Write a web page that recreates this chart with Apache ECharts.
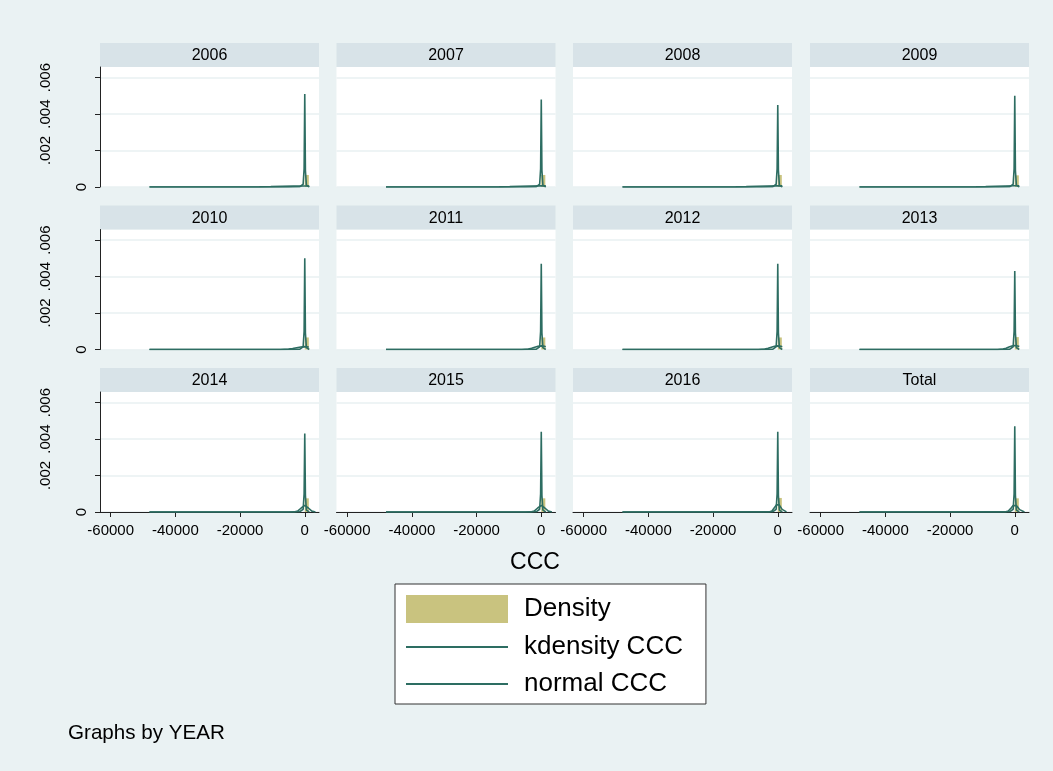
<!DOCTYPE html>
<html>
<head>
<meta charset="utf-8">
<script src="https://cdn.jsdelivr.net/npm/echarts@6/dist/echarts.min.js"></script>
<style>
  html, body { margin: 0; padding: 0; background: #ffffff; }
  #chart { width: 1053px; height: 771px; }
</style>
</head>
<body>
<div id="chart"></div>
<script>
// Panel labels (one panel per year plus the pooled total)
const years = ['2006', '2007', '2008', '2009', '2010', '2011', '2012', '2013', '2014', '2015', '2016', 'Total'];

// Axis ticks
const xTicks = [-60000, -40000, -20000, 0];
const yTicks = [0, 0.002, 0.004, 0.006];

// Histogram bin holding nearly all observations, per panel
const histLo = [0, 0, 0, 0, 0, 0, 0, 0, 0, 0, 0, 0];
const histHi = [1250, 1250, 1250, 1250, 1250, 1250, 1250, 1250, 1250, 1250, 1250, 1250];
const histDensity = [0.00066, 0.00066, 0.00066, 0.00064, 0.00066, 0.00066, 0.00066, 0.00068, 0.00075, 0.00075, 0.00077, 0.00075];

// Kernel density of CCC: evaluation points and estimates per panel
const kdX = [-48000, -20000, -5000, -1500, -500, -200, 0, 200, 500, 1400];
const kdY = [
  [0, 0, 0.000002, 0.00002, 0.00015, 0.0010, 0.0051, 0.0009, 0.0001, 0],
  [0, 0, 0.000002, 0.00002, 0.00015, 0.0010, 0.0048, 0.0009, 0.0001, 0],
  [0, 0, 0.000002, 0.00002, 0.00015, 0.0010, 0.0045, 0.0009, 0.0001, 0],
  [0, 0, 0.000002, 0.00002, 0.00015, 0.0010, 0.0050, 0.0009, 0.0001, 0],
  [0, 0, 0.000002, 0.00002, 0.00015, 0.0010, 0.0050, 0.0009, 0.0001, 0],
  [0, 0, 0.000002, 0.00002, 0.00015, 0.0010, 0.0047, 0.0009, 0.0001, 0],
  [0, 0, 0.000002, 0.00002, 0.00015, 0.0010, 0.0047, 0.0009, 0.0001, 0],
  [0, 0, 0.000002, 0.00002, 0.00015, 0.0010, 0.0043, 0.0009, 0.0001, 0],
  [0, 0, 0.000002, 0.00002, 0.00015, 0.0010, 0.0043, 0.0009, 0.0001, 0],
  [0, 0, 0.000002, 0.00002, 0.00015, 0.0010, 0.0044, 0.0009, 0.0001, 0],
  [0, 0, 0.000002, 0.00002, 0.00015, 0.0010, 0.0044, 0.0009, 0.0001, 0],
  [0, 0, 0.000002, 0.00002, 0.00015, 0.0010, 0.0047, 0.0009, 0.0001, 0]
];

// Normal density overlay over each panel's data range: points and heights
const normX = [
  [-48000, -21000, -14000, -10500, -7000, -3500, 0, 1400],
  [-48000, -19500, -13000, -9750, -6500, -3250, 0, 1400],
  [-48000, -19500, -13000, -9750, -6500, -3250, 0, 1400],
  [-48000, -18000, -12000, -9000, -6000, -3000, 0, 1400],
  [-48000, -7500, -5000, -3750, -2500, -1250, 0, 1250, 1400],
  [-48000, -6000, -4000, -3000, -2000, -1000, 0, 1000, 1400],
  [-48000, -6000, -4000, -3000, -2000, -1000, 0, 1000, 1400],
  [-48000, -5400, -3600, -2700, -1800, -900, 0, 900, 1400],
  [-48000, -3300, -2200, -1650, -1100, -550, 0, 550, 1100, 1650, 2200, 3300],
  [-48000, -3300, -2200, -1650, -1100, -550, 0, 550, 1100, 1650, 2200, 3300],
  [-48000, -2700, -1800, -1350, -900, -450, 0, 450, 900, 1350, 1800, 2700],
  [-48000, -3000, -2000, -1500, -1000, -500, 0, 500, 1000, 1500, 2000, 3000]
];
const normY = [
  [0, 6.3e-7, 7.7e-6, 1.85e-5, 3.46e-5, 5.03e-5, 5.70e-5, 5.59e-5],
  [0, 6.8e-7, 8.3e-6, 1.99e-5, 3.72e-5, 5.42e-5, 6.14e-5, 6.0e-5],
  [0, 6.8e-7, 8.3e-6, 1.99e-5, 3.72e-5, 5.42e-5, 6.14e-5, 6.0e-5],
  [0, 7.4e-7, 9.0e-6, 2.16e-5, 4.03e-5, 5.87e-5, 6.65e-5, 6.47e-5],
  [0, 1.8e-6, 2.16e-5, 5.18e-5, 9.68e-5, 1.408e-4, 1.596e-4, 1.408e-4, 1.364e-4],
  [0, 2.2e-6, 2.70e-5, 6.48e-5, 1.210e-4, 1.760e-4, 1.995e-4, 1.760e-4, 1.56e-4],
  [0, 2.2e-6, 2.70e-5, 6.48e-5, 1.210e-4, 1.760e-4, 1.995e-4, 1.760e-4, 1.56e-4],
  [0, 2.5e-6, 3.0e-5, 7.2e-5, 1.344e-4, 1.956e-4, 2.216e-4, 1.956e-4, 1.64e-4],
  [0, 4.0e-6, 4.91e-5, 1.177e-4, 2.200e-4, 3.201e-4, 3.627e-4, 3.201e-4, 2.200e-4, 1.177e-4, 4.91e-5, 4.0e-6],
  [0, 4.0e-6, 4.91e-5, 1.177e-4, 2.200e-4, 3.201e-4, 3.627e-4, 3.201e-4, 2.200e-4, 1.177e-4, 4.91e-5, 4.0e-6],
  [0, 4.9e-6, 6.0e-5, 1.439e-4, 2.689e-4, 3.912e-4, 4.433e-4, 3.912e-4, 2.689e-4, 1.439e-4, 6.0e-5, 4.9e-6],
  [0, 4.4e-6, 5.4e-5, 1.295e-4, 2.420e-4, 3.521e-4, 3.989e-4, 3.521e-4, 2.420e-4, 1.295e-4, 5.4e-5, 4.4e-6]
];

// ---- layout of the 4 x 3 panel grid ----
const FONT = '"Liberation Sans", Arial, Helvetica, sans-serif';
const colLeft = [100, 336.5, 573, 810];
const plotW = 219;
const stripTop = [43, 205.5, 368];
const stripH = 24;
const plotH = 120;
const LINE = '#2d6d62';
const FILL = '#c9c37f';
const LINE_ICON = 'path://M0,0 L100,0 L100,2 L0,2 Z';

const grids = [], xAxes = [], yAxes = [], series = [], graphics = [];

years.forEach((yr, i) => {
  const row = Math.floor(i / 4), col = i % 4;
  const left = colLeft[col], top = stripTop[row] + stripH;
  const bottomRow = row === 2, firstCol = col === 0;

  grids.push({
    left: left, top: top, width: plotW, height: plotH,
    show: true, backgroundColor: '#ffffff', borderWidth: 0, containLabel: false
  });

  xAxes.push({
    type: 'value', gridIndex: i, min: -63300, max: 4400,
    axisLine: { show: bottomRow, onZero: false, lineStyle: { color: '#222', width: 1 } },
    axisTick: { show: bottomRow, length: 5, customValues: xTicks, lineStyle: { color: '#222' } },
    axisLabel: {
      show: bottomRow, customValues: xTicks, margin: 11,
      fontSize: 15, color: '#000', fontFamily: FONT,
      formatter: v => String(v)
    },
    splitLine: { show: false }
  });

  yAxes.push({
    type: 'value', gridIndex: i, min: 0, max: 0.00658,
    axisLine: { show: firstCol, onZero: false, lineStyle: { color: '#222', width: 1 } },
    axisTick: { show: firstCol, length: 5, customValues: yTicks, lineStyle: { color: '#222' } },
    axisLabel: {
      show: firstCol, customValues: yTicks, rotate: 90, margin: 11,
      color: '#000', fontFamily: FONT, fontSize: 15,
      formatter: v => v === 0 ? '{z|0}' : '{n|' + String(v).replace(/^0\./, '.') + '}',
      rich: {
        z: { fontSize: 15, fontFamily: FONT, color: '#000' },
        n: { fontSize: 15, fontFamily: FONT, color: '#000', padding: [0, 0, 36, 0] }
      }
    },
    splitLine: { show: true, lineStyle: { color: '#e9f0f2', width: 1.5 } }
  });

  // histogram bar
  series.push({
    name: 'Density', type: 'custom', xAxisIndex: i, yAxisIndex: i, z: 1,
    itemStyle: { color: FILL },
    encode: { x: [0, 1], y: 2 },
    data: [[histLo[i], histHi[i], histDensity[i]]],
    renderItem: (params, api) => {
      const p0 = api.coord([api.value(0), 0]);
      const p1 = api.coord([api.value(1), api.value(2)]);
      return {
        type: 'rect',
        shape: { x: p0[0], y: p1[1], width: p1[0] - p0[0], height: p0[1] - p1[1] },
        style: { fill: FILL }
      };
    }
  });

  // kernel density
  series.push({
    name: 'kdensity CCC', type: 'line', xAxisIndex: i, yAxisIndex: i, z: 3,
    symbol: 'none', showSymbol: false, smooth: false,
    lineStyle: { color: LINE, width: 1.6 }, itemStyle: { color: LINE },
    data: kdX.map((x, k) => [x, kdY[i][k]])
  });

  // normal density
  series.push({
    name: 'normal CCC', type: 'line', xAxisIndex: i, yAxisIndex: i, z: 2,
    symbol: 'none', showSymbol: false, smooth: false,
    lineStyle: { color: LINE, width: 1.6 }, itemStyle: { color: LINE },
    data: normX[i].map((x, k) => [x, normY[i][k]])
  });

  // panel strip with its year
  graphics.push({
    type: 'rect', left: left, top: stripTop[row], silent: true,
    shape: { width: plotW, height: stripH },
    style: { fill: '#d8e3e8' }
  });
  graphics.push({
    type: 'text', silent: true,
    x: left + plotW / 2, y: stripTop[row] + stripH / 2 + 1,
    style: { text: yr, fill: '#000', font: '16px ' + FONT, align: 'center', verticalAlign: 'middle' }
  });
});

// shared axis title and note
graphics.push({
  type: 'text', silent: true, x: 535, y: 563,
  style: { text: 'CCC', fill: '#000', font: '23px ' + FONT, align: 'center', verticalAlign: 'middle' }
});
graphics.push({
  type: 'text', silent: true, x: 68, y: 733,
  style: { text: 'Graphs by YEAR', fill: '#000', font: '20.6px ' + FONT, align: 'left', verticalAlign: 'middle' }
});

const option = {
  animation: false,
  backgroundColor: '#eaf2f3',
  textStyle: { fontFamily: FONT },
  grid: grids,
  xAxis: xAxes,
  yAxis: yAxes,
  series: series,
  graphic: graphics,
  legend: {
    orient: 'vertical', left: 395, top: 584,
    itemWidth: 102, itemHeight: 28, itemGap: 11,
    padding: [11, 23, 7, 11],
    symbolKeepAspect: true,
    backgroundColor: '#ffffff', borderColor: '#333', borderWidth: 1, borderRadius: 0,
    selectedMode: false,
    textStyle: { fontSize: 26, color: '#000', fontFamily: FONT, padding: [0, 0, 0, 11] },
    data: [
      { name: 'Density', icon: 'rect' },
      { name: 'kdensity CCC', icon: LINE_ICON },
      { name: 'normal CCC', icon: LINE_ICON }
    ]
  }
};

const chart = echarts.init(document.getElementById('chart'), null, { renderer: 'canvas' });
chart.setOption(option);
</script>
</body>
</html>
